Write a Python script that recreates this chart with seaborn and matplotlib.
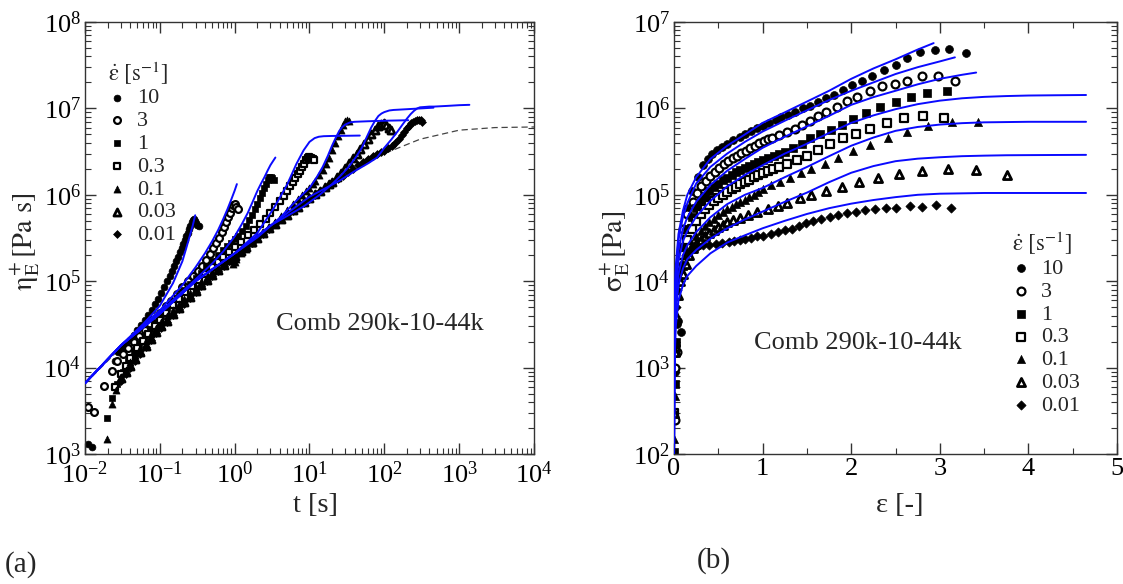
import matplotlib
matplotlib.use("Agg")
import matplotlib.pyplot as plt
import seaborn as sns
from matplotlib.ticker import LogLocator, MultipleLocator, NullFormatter

# ---------------- data : panel (a)  eta_E+ vs t ----------------
rate_labels = ["10", "3", "1", "0.3", "0.1", "0.03", "0.01"]

t_a_10 = [0.011, 0.0125, 0.025, 0.028, 0.031, 0.035, 0.04, 0.045, 0.05, 0.056, 0.063, 0.07, 0.078, 0.086,
          0.095, 0.105, 0.115, 0.125, 0.135, 0.145, 0.155, 0.165, 0.175, 0.185, 0.195, 0.205, 0.215, 0.225,
          0.235, 0.245, 0.255, 0.265, 0.275, 0.285, 0.295, 0.305, 0.315, 0.33]
eta_a_10 = [1.3e3, 1.2e3, 1.2e4, 1.5e4, 1.7e4, 1.9e4, 2.1e4, 2.4e4, 2.7e4, 3.1e4, 3.6e4, 4.1e4, 4.7e4, 5.4e4,
            6.3e4, 7.3e4, 8.5e4, 1.0e5, 1.15e5, 1.3e5, 1.5e5, 1.7e5, 1.9e5, 2.15e5, 2.4e5, 2.7e5, 3.0e5, 3.3e5,
            3.65e5, 4.0e5, 4.4e5, 4.8e5, 5.1e5, 5.2e5, 5.0e5, 4.7e5, 4.5e5, 4.4e5]

t_a_3 = [0.0108, 0.013, 0.0178, 0.0226, 0.027, 0.032, 0.038, 0.045, 0.053, 0.063, 0.075, 0.089, 0.1, 0.12,
         0.14, 0.17, 0.2, 0.24, 0.28, 0.32, 0.37, 0.42, 0.47, 0.52, 0.57, 0.62, 0.67, 0.72, 0.77, 0.82, 0.87,
         0.92, 0.96, 1.0, 1.05, 1.1]
eta_a_3 = [3.5e3, 3.1e3, 6.2e3, 9.1e3, 1.2e4, 1.45e4, 1.7e4, 2.0e4, 2.3e4, 2.7e4, 3.2e4, 3.8e4, 4.3e4, 5.1e4,
           5.9e4, 7.2e4, 8.5e4, 1.0e5, 1.15e5, 1.3e5, 1.5e5, 1.75e5, 2.05e5, 2.4e5, 2.8e5, 3.2e5, 3.7e5, 4.2e5,
           4.8e5, 5.5e5, 6.2e5, 7.0e5, 7.6e5, 7.8e5, 7.3e5, 6.8e5]

t_a_1 = [0.0195, 0.0226, 0.027, 0.032, 0.038, 0.045, 0.053, 0.063, 0.075, 0.089, 0.105, 0.125, 0.15, 0.18,
         0.21, 0.25, 0.3, 0.35, 0.42, 0.5, 0.6, 0.7, 0.8, 0.9, 1.0, 1.1, 1.25, 1.4, 1.55, 1.7, 1.85, 2.0, 2.15,
         2.3, 2.45, 2.6, 2.75, 2.9, 3.05, 3.2, 3.35]
eta_a_1 = [2.6e3, 4.5e3, 6.5e3, 9e3, 1.2e4, 1.5e4, 1.9e4, 2.3e4, 2.8e4, 3.4e4, 4.1e4, 4.9e4, 5.9e4, 7e4,
           8e4, 9.3e4, 1.08e5, 1.25e5, 1.45e5, 1.7e5, 2e5, 2.3e5, 2.55e5, 2.8e5, 3.05e5, 3.35e5, 3.8e5, 4.4e5,
           5.1e5, 5.9e5, 6.8e5, 7.9e5, 9.1e5, 1.05e6, 1.2e6, 1.35e6, 1.5e6, 1.6e6, 1.6e6, 1.55e6, 1.5e6]

t_a_03 = [0.025, 0.03, 0.035, 0.04, 0.05, 0.06, 0.07, 0.085, 0.1, 0.12, 0.15, 0.18, 0.22, 0.27, 0.33, 0.4,
          0.5, 0.6, 0.7, 0.85, 1.0, 1.2, 1.5, 1.8, 2.2, 2.6, 3.0, 3.5, 4.0, 4.5, 5.0, 5.5, 6.0, 6.5, 7.0, 7.5,
          8.0, 8.5, 9.0, 9.5, 10.0, 10.5, 11.0, 11.5]
eta_a_03 = [6e3, 8.5e3, 1.05e4, 1.3e4, 1.7e4, 2.05e4, 2.45e4, 3e4, 3.6e4, 4.3e4, 5.3e4, 6.2e4, 7.5e4, 8.8e4,
            1.03e5, 1.2e5, 1.45e5, 1.68e5, 1.9e5, 2.2e5, 2.5e5, 2.85e5, 3.4e5, 3.9e5, 4.6e5, 5.3e5, 6.1e5,
            7.2e5, 8.4e5, 9.6e5, 1.1e6, 1.25e6, 1.4e6, 1.55e6, 1.72e6, 1.9e6, 2.1e6, 2.3e6, 2.5e6, 2.65e6,
            2.75e6, 2.7e6, 2.6e6, 2.5e6]

t_a_01 = [0.0194, 0.0226, 0.026, 0.03, 0.035, 0.04, 0.047, 0.055, 0.065, 0.077, 0.09, 0.105, 0.125, 0.15,
          0.18, 0.21, 0.25, 0.3, 0.36, 0.43, 0.5, 0.6, 0.72, 0.85, 0.95, 1.0, 1.05, 1.2, 1.4, 1.7, 2.0, 2.4,
          2.9, 3.5, 4.2, 5.0, 6.0, 7.0, 8.0, 9.0, 10, 11, 12, 13.5, 15, 16.5, 18, 20, 22, 24, 26, 28, 30, 32, 34]
eta_a_01 = [1.5e3, 3.8e3, 5.5e3, 7.5e3, 9.5e3, 1.15e4, 1.4e4, 1.7e4, 2.05e4, 2.45e4, 2.9e4, 3.4e4, 4e4, 4.7e4,
            5.5e4, 6.3e4, 7.3e4, 8.5e4, 9.8e4, 1.13e5, 1.27e5, 1.45e5, 1.65e5, 1.8e5, 1.6e5, 1.65e5, 1.8e5,
            2.1e5, 2.35e5, 2.75e5, 3.15e5, 3.6e5, 4.2e5, 4.9e5, 5.7e5, 6.6e5, 7.8e5, 8.9e5, 1.0e6, 1.1e6,
            1.2e6, 1.32e6, 1.45e6, 1.68e6, 1.95e6, 2.3e6, 2.7e6, 3.3e6, 4.0e6, 4.8e6, 5.6e6, 6.4e6, 7.1e6,
            7.4e6, 7.2e6]

t_a_003 = [0.03, 0.035, 0.04, 0.047, 0.055, 0.065, 0.077, 0.09, 0.105, 0.125, 0.15, 0.18, 0.21, 0.25, 0.3,
           0.36, 0.43, 0.5, 0.6, 0.72, 0.85, 1.0, 1.2, 1.4, 1.7, 2.0, 2.4, 2.9, 3.5, 4.2, 5, 6, 7, 8.5, 10, 12,
           14, 16, 18, 20, 23, 26, 30, 34, 38, 43, 48, 54, 60, 67, 74, 82, 90, 98, 106, 114, 122]
eta_a_003 = [7.5e3, 9e3, 1.05e4, 1.25e4, 1.5e4, 1.8e4, 2.15e4, 2.55e4, 3e4, 3.5e4, 4.2e4, 4.9e4, 5.7e4,
             6.6e4, 7.7e4, 9e4, 1.04e5, 1.18e5, 1.35e5, 1.55e5, 1.75e5, 1.97e5, 2.25e5, 2.5e5, 2.85e5, 3.2e5,
             3.6e5, 4.1e5, 4.65e5, 5.2e5, 5.9e5, 6.6e5, 7.3e5, 8.2e5, 9.2e5, 1.02e6, 1.12e6, 1.22e6, 1.32e6,
             1.42e6, 1.6e6, 1.78e6, 2.05e6, 2.35e6, 2.65e6, 3.0e6, 3.4e6, 3.9e6, 4.4e6, 5.0e6, 5.6e6, 6.2e6,
             6.6e6, 6.7e6, 6.4e6, 6.0e6, 5.6e6]

t_a_001 = [0.03, 0.035, 0.04, 0.047, 0.055, 0.065, 0.077, 0.09, 0.105, 0.125, 0.15, 0.18, 0.21, 0.25, 0.3,
           0.36, 0.43, 0.5, 0.6, 0.72, 0.85, 1.0, 1.2, 1.4, 1.7, 2.0, 2.4, 2.9, 3.5, 4.2, 5, 6, 7, 8.5, 10, 12,
           14, 17, 20, 24, 28, 33, 38, 45, 52, 60, 70, 80, 90, 100, 112, 125, 140, 155, 170, 185, 200, 215,
           230, 245, 260, 275, 290, 305, 320]
eta_a_001 = [7e3, 8.5e3, 1e4, 1.2e4, 1.45e4, 1.75e4, 2.1e4, 2.5e4, 2.9e4, 3.4e4, 4.1e4, 4.8e4, 5.5e4, 6.4e4,
             7.5e4, 8.7e4, 1e5, 1.14e5, 1.3e5, 1.5e5, 1.7e5, 1.92e5, 2.2e5, 2.45e5, 2.8e5, 3.15e5, 3.55e5,
             4.05e5, 4.6e5, 5.2e5, 5.8e5, 6.5e5, 7.2e5, 8.1e5, 9.0e5, 1.0e6, 1.1e6, 1.23e6, 1.36e6, 1.52e6,
             1.67e6, 1.85e6, 2.0e6, 2.2e6, 2.4e6, 2.6e6, 2.8e6, 2.95e6, 3.1e6, 3.25e6, 3.45e6, 3.7e6, 4.0e6,
             4.4e6, 4.9e6, 5.4e6, 5.9e6, 6.3e6, 6.7e6, 7.0e6, 7.2e6, 7.35e6, 7.4e6, 7.3e6, 7.0e6]

# model curves, panel (a)
tm_a_10 = [0.01, 0.03, 0.06, 0.1, 0.15, 0.2, 0.225, 0.25, 0.275, 0.297]
em_a_10 = [6.6e3, 1.8e4, 3.2e4, 5.2e4, 9.5e4, 1.7e5, 2.4e5, 3.3e5, 4.4e5, 5.8e5]
tm_a_3 = [0.01, 0.03, 0.1, 0.2, 0.3, 0.4, 0.5, 0.6, 0.7, 0.8, 0.9, 1.0, 1.07]
em_a_3 = [6.6e3, 1.8e4, 4.6e4, 9e4, 1.45e5, 2.1e5, 2.9e5, 3.9e5, 5.2e5, 6.8e5, 8.8e5, 1.12e6, 1.33e6]
tm_a_1 = [0.01, 0.03, 0.1, 0.3, 0.5, 0.7, 1.0, 1.25, 1.5, 1.75, 2.0, 2.25, 2.5, 2.75, 3.0, 3.25, 3.5]
em_a_1 = [6.6e3, 1.8e4, 4.4e4, 1.05e5, 1.6e5, 2.2e5, 3.3e5, 4.6e5, 6.2e5, 8.4e5, 1.1e6, 1.35e6, 1.6e6,
          1.9e6, 2.2e6, 2.45e6, 2.7e6]
tm_a_03 = [0.01, 0.03, 0.1, 0.3, 1, 2, 3.33, 5, 6.67, 8.33, 10, 11.7, 13.3, 15.5, 20, 30, 47]
em_a_03 = [6.6e3, 1.8e4, 4.2e4, 1e5, 2.1e5, 3.6e5, 7e5, 1.3e6, 2.27e6, 3.27e6, 4.1e6, 4.53e6, 4.7e6, 4.77e6,
           4.8e6, 4.82e6, 4.85e6]
tm_a_01 = [0.01, 0.03, 0.1, 0.3, 1, 2, 4.1, 6, 8, 10, 12.5, 15, 17.5, 20, 22.5, 25, 27.5, 30, 35, 40, 60, 100, 209]
em_a_01 = [6.6e3, 1.8e4, 4.2e4, 1e5, 2.1e5, 3.2e5, 5.5e5, 7.8e5, 1e6, 1.2e6, 1.6e6, 2.1e6, 2.8e6, 3.7e6,
           4.6e6, 5.5e6, 6.1e6, 6.5e6, 6.9e6, 7.0e6, 7.1e6, 7.2e6, 7.3e6]
tm_a_003 = [0.01, 0.03, 0.1, 0.3, 1, 3, 8.3, 13.7, 20, 26.7, 33.3, 41.7, 50, 58.3, 66.7, 75, 83.3, 91.7, 100,
            116.7, 133, 155, 250, 454]
em_a_003 = [6.6e3, 1.8e4, 4.2e4, 1e5, 2.1e5, 4.4e5, 7.3e5, 1e6, 1.33e6, 1.7e6, 2.1e6, 2.73e6, 3.5e6, 4.67e6,
            6e6, 7.17e6, 8.17e6, 8.73e6, 9.07e6, 9.47e6, 9.6e6, 9.67e6, 9.9e6, 1.02e7]
tm_a_001 = [0.01, 0.03, 0.1, 0.3, 1, 3, 10, 25, 41, 60, 80, 100, 125, 150, 175, 200, 225, 250, 275, 300, 350,
            400, 465, 700, 1000, 1370]
em_a_001 = [6.6e3, 1.8e4, 4.2e4, 1e5, 2.1e5, 4.4e5, 9.5e5, 1.45e6, 1.9e6, 2.3e6, 2.7e6, 3.5e6, 4.4e6, 5.4e6,
            6.5e6, 7.6e6, 8.6e6, 9.4e6, 1.0e7, 1.03e7, 1.04e7, 1.05e7, 1.05e7, 1.07e7, 1.09e7, 1.1e7]

# linear viscoelastic envelope (dashed)
t_lve = [0.01, 0.03, 0.1, 0.3, 1, 3, 10, 30, 100, 300, 1000, 3000, 10000]
eta_lve = [6.5e3, 1.7e4, 4.1e4, 9.5e4, 2.0e5, 4.3e5, 9.0e5, 1.7e6, 3.0e6, 4.4e6, 5.6e6, 6.0e6, 6.1e6]

# ---------------- data : panel (b)  sigma_E+ vs strain ----------------
e_b_10 = [0.005, 0.01, 0.02, 0.03, 0.05, 0.08, 0.15, 0.2, 0.27, 0.33, 0.38, 0.43, 0.48, 0.54, 0.6, 0.67, 0.74,
          0.8, 0.87, 0.94, 1.0, 1.07, 1.15, 1.21, 1.29, 1.37, 1.45, 1.54, 1.63, 1.71, 1.80, 1.91, 2.01, 2.12,
          2.24, 2.37, 2.50, 2.63, 2.78, 2.94, 3.10, 3.29]
s_b_10 = [2.5e2, 9e2, 1.8e3, 3.2e3, 3.5e3, 2.6e3, 7e4, 1.1e5, 1.6e5, 2.2e5, 2.6e5, 3.0e5, 3.3e5, 3.6e5, 3.9e5,
          4.3e5, 4.7e5, 5.1e5, 5.5e5, 5.9e5, 6.3e5, 6.8e5, 7.3e5, 7.9e5, 8.5e5, 9.1e5, 1.0e6, 1.07e6, 1.18e6,
          1.31e6, 1.44e6, 1.65e6, 1.87e6, 2.1e6, 2.4e6, 2.8e6, 3.2e6, 3.8e6, 4.5e6, 4.7e6, 4.9e6, 4.4e6]

e_b_3 = [0.01, 0.016, 0.03, 0.1, 0.15, 0.21, 0.26, 0.31, 0.36, 0.41, 0.46, 0.51, 0.56, 0.61, 0.66, 0.71, 0.76,
         0.81, 0.86, 0.91, 0.96, 1.01, 1.06, 1.11, 1.19, 1.27, 1.36, 1.44, 1.53, 1.63, 1.72, 1.84, 1.95, 2.07,
         2.21, 2.35, 2.49, 2.63, 2.80, 2.98, 3.17]
s_b_3 = [1e3, 2.5e2, 1.5e3, 4e4, 6e4, 8.3e4, 1.05e5, 1.25e5, 1.45e5, 1.65e5, 1.85e5, 2.05e5, 2.25e5, 2.45e5,
         2.65e5, 2.85e5, 3.05e5, 3.25e5, 3.45e5, 3.7e5, 3.95e5, 4.2e5, 4.4e5, 4.6e5, 4.9e5, 5.3e5, 5.8e5, 6.4e5,
         7.2e5, 8.2e5, 9.1e5, 1.05e6, 1.22e6, 1.37e6, 1.58e6, 1.8e6, 1.9e6, 2.05e6, 2.4e6, 2.4e6, 2.1e6]

e_b_1 = [0.005, 0.01, 0.02, 0.1, 0.15, 0.2, 0.25, 0.3, 0.35, 0.4, 0.45, 0.5, 0.55, 0.6, 0.65, 0.7, 0.75, 0.8,
         0.85, 0.9, 0.95, 1.0, 1.06, 1.13, 1.19, 1.25, 1.34, 1.44, 1.54, 1.65, 1.77, 1.90, 2.02, 2.17, 2.33,
         2.50, 2.68, 2.85, 3.08]
s_b_1 = [1.05e2, 6.5e2, 2e3, 2.5e4, 4e4, 5.5e4, 7e4, 8.5e4, 9.8e4, 1.1e5, 1.22e5, 1.35e5, 1.47e5, 1.58e5,
         1.7e5, 1.82e5, 1.94e5, 2.06e5, 2.18e5, 2.3e5, 2.42e5, 2.55e5, 2.7e5, 2.85e5, 3.0e5, 3.15e5, 3.5e5,
         3.9e5, 4.5e5, 5.0e5, 5.6e5, 6.5e5, 7.6e5, 8.9e5, 1.05e6, 1.2e6, 1.37e6, 1.5e6, 1.6e6]

e_b_03 = [0.005, 0.01, 0.1, 0.15, 0.2, 0.25, 0.3, 0.35, 0.4, 0.45, 0.5, 0.55, 0.6, 0.65, 0.7, 0.75, 0.8, 0.85,
          0.9, 0.95, 1.0, 1.06, 1.12, 1.19, 1.28, 1.39, 1.50, 1.62, 1.76, 1.91, 2.05, 2.21, 2.40, 2.60, 2.81,
          3.05]
s_b_03 = [3e2, 1.5e3, 2e4, 3e4, 4e4, 5e4, 6e4, 6.8e4, 7.6e4, 8.5e4, 9.3e4, 1.0e5, 1.08e5, 1.16e5, 1.24e5,
          1.32e5, 1.4e5, 1.5e5, 1.6e5, 1.7e5, 1.8e5, 1.9e5, 2.0e5, 2.1e5, 2.3e5, 2.5e5, 2.8e5, 3.3e5, 3.85e5,
          4.5e5, 5.0e5, 5.8e5, 6.7e5, 7.7e5, 8.1e5, 7.7e5]

e_b_01 = [0.003, 0.008, 0.02, 0.1, 0.15, 0.2, 0.25, 0.3, 0.35, 0.4, 0.45, 0.5, 0.55, 0.6, 0.65, 0.7, 0.75,
          0.8, 0.85, 0.9, 0.95, 1.0, 1.09, 1.20, 1.31, 1.43, 1.55, 1.70, 1.85, 2.02, 2.21, 2.41, 2.63, 2.87,
          3.14, 3.43]
s_b_01 = [1.5e2, 4.7e2, 1.5e3, 1.5e4, 2.1e4, 2.7e4, 3.3e4, 3.8e4, 4.3e4, 4.8e4, 5.3e4, 5.8e4, 6.3e4, 6.8e4,
          7.3e4, 7.8e4, 8.3e4, 8.8e4, 9.4e4, 1.0e5, 1.08e5, 1.17e5, 1.3e5, 1.4e5, 1.58e5, 1.8e5, 2.0e5, 2.3e5,
          2.65e5, 3.2e5, 3.8e5, 4.5e5, 5.4e5, 6.3e5, 7.0e5, 7.0e5]

e_b_003 = [0.005, 0.01, 0.02, 0.04, 0.07, 0.1, 0.13, 0.17, 0.21, 0.25, 0.3, 0.35, 0.4, 0.45, 0.5, 0.55, 0.6,
           0.66, 0.74, 0.84, 0.94, 1.06, 1.17, 1.28, 1.42, 1.55, 1.72, 1.90, 2.09, 2.30, 2.54, 2.80, 3.09,
           3.41, 3.76]
s_b_003 = [3e2, 1.5e3, 4e3, 7e3, 1e4, 1.2e4, 1.6e4, 2.0e4, 2.4e4, 2.7e4, 3.0e4, 3.3e4, 3.6e4, 3.9e4, 4.2e4,
           4.5e4, 4.8e4, 5.1e4, 5.4e4, 5.9e4, 6.3e4, 6.9e4, 7.4e4, 8.1e4, 9.1e4, 1.0e5, 1.11e5, 1.24e5, 1.4e5,
           1.58e5, 1.76e5, 1.87e5, 1.97e5, 1.94e5, 1.7e5]

e_b_001 = [0.01, 0.02, 0.03, 0.05, 0.07, 0.09, 0.13, 0.17, 0.21, 0.26, 0.33, 0.4, 0.47, 0.54, 0.62, 0.68, 0.74,
           0.8, 0.87, 0.94, 1.0, 1.09, 1.17, 1.25, 1.33, 1.41, 1.49, 1.57, 1.66, 1.76, 1.85, 1.95, 2.05, 2.15,
           2.27, 2.39, 2.51, 2.66, 2.80, 2.96, 3.13]
s_b_001 = [2e3, 5e3, 8e3, 1.1e4, 1.35e4, 1.6e4, 2.0e4, 2.2e4, 2.4e4, 2.5e4, 2.6e4, 2.65e4, 2.7e4, 2.75e4,
           2.85e4, 2.95e4, 3.0e4, 3.1e4, 3.2e4, 3.3e4, 3.35e4, 3.5e4, 3.7e4, 3.9e4, 4.0e4, 4.4e4, 4.7e4, 5.0e4,
           5.3e4, 5.6e4, 5.8e4, 6.1e4, 6.3e4, 6.6e4, 6.8e4, 7.0e4, 7.1e4, 7.4e4, 7.3e4, 7.6e4, 7.0e4]

# model curves, panel (b)
em_b_10 = [0, 0.003, 0.01, 0.02, 0.05, 0.1, 0.15, 0.25, 0.41, 0.6, 0.8, 1.0, 1.25, 1.5, 1.75, 2.0, 2.25, 2.5,
           2.75, 2.93]
sm_b_10 = [1e2, 2e3, 8e3, 1.5e4, 3.5e4, 6.5e4, 1e5, 1.6e5, 2.6e5, 3.7e5, 5e5, 6.8e5, 9e5, 1.2e6, 1.6e6, 2.2e6,
           2.9e6, 3.7e6, 4.8e6, 5.7e6]
em_b_3 = [0, 0.003, 0.01, 0.02, 0.05, 0.1, 0.15, 0.25, 0.41, 0.6, 0.8, 1.0, 1.25, 1.5, 1.75, 2.0, 2.25, 2.5,
          2.75, 3.0, 3.17]
sm_b_3 = [1e2, 1.8e3, 6.5e3, 1.3e4, 3e4, 5.5e4, 8e4, 1.35e5, 2.1e5, 3.0e5, 4.1e5, 5.4e5, 7.2e5, 9.5e5, 1.25e6,
          1.6e6, 2.0e6, 2.5e6, 3.0e6, 3.5e6, 3.9e6]
em_b_1 = [0, 0.003, 0.01, 0.02, 0.05, 0.1, 0.15, 0.25, 0.41, 0.6, 0.8, 1.0, 1.25, 1.5, 1.75, 2.0, 2.25, 2.5,
          2.75, 3.0, 3.25, 3.41]
sm_b_1 = [1e2, 1.5e3, 5e3, 1e4, 2.3e4, 4e4, 5.5e4, 8.3e4, 1.3e5, 1.9e5, 2.6e5, 3.5e5, 4.7e5, 6.2e5, 8.2e5,
          1.1e6, 1.35e6, 1.6e6, 1.9e6, 2.2e6, 2.45e6, 2.6e6]
em_b_long = [0, 0.003, 0.01, 0.02, 0.05, 0.1, 0.15, 0.25, 0.41, 0.6, 0.8, 1.0, 1.25, 1.5, 1.75, 2.0, 2.25, 2.5,
             2.75, 3.0, 3.25, 3.5, 3.75, 4.0, 4.3, 4.65]
sm_b_03 = [1e2, 1.2e3, 4e3, 8e3, 1.7e4, 2.9e4, 3.8e4, 5.6e4, 8.5e4, 1.25e5, 1.7e5, 2.2e5, 3.0e5, 3.9e5, 5.2e5,
           6.8e5, 8.3e5, 9.8e5, 1.12e6, 1.23e6, 1.31e6, 1.36e6, 1.39e6, 1.41e6, 1.42e6, 1.43e6]
sm_b_01 = [1e2, 9e2, 3e3, 6e3, 1.2e4, 2e4, 2.6e4, 3.7e4, 5.5e4, 7.8e4, 1e5, 1.2e5, 1.6e5, 2.1e5, 2.8e5, 3.7e5,
           4.6e5, 5.5e5, 6.1e5, 6.5e5, 6.75e5, 6.9e5, 6.95e5, 7.0e5, 7.0e5, 7.0e5]
sm_b_003 = [1e2, 7e2, 2.2e3, 4.5e3, 9e3, 1.4e4, 1.8e4, 2.3e4, 3.1e4, 4.1e4, 5.2e4, 6.4e4, 8.3e4, 1.06e5, 1.4e5,
            1.8e5, 2.15e5, 2.45e5, 2.62e5, 2.72e5, 2.8e5, 2.84e5, 2.87e5, 2.88e5, 2.89e5, 2.9e5]
sm_b_001 = [1e2, 5e2, 1.5e3, 3e3, 6e3, 9e3, 1.15e4, 1.5e4, 2.1e4, 2.8e4, 3.4e4, 4.1e4, 5.0e4, 6.0e4, 7.0e4,
            7.9e4, 8.7e4, 9.4e4, 1.0e5, 1.03e5, 1.04e5, 1.05e5, 1.05e5, 1.05e5, 1.05e5, 1.05e5]

# ---------------- style ----------------
sns.set_style("ticks")
plt.rcParams["font.family"] = ["Liberation Serif", "DejaVu Serif"]
plt.rcParams["mathtext.fontset"] = "stix"

BLUE = "#0a0aff"
# marker, facecolor, edgewidth
styles = {
    "10": ("o", "black", 0.5),
    "3": ("o", "white", 1.6),
    "1": ("s", "black", 0.5),
    "0.3": ("s", "white", 1.6),
    "0.1": ("^", "black", 0.5),
    "0.03": ("^", "white", 2.0),
    "0.01": ("D", "black", 0.5),
}
sizes_a = {"o": 24, "s": 21, "^": 26, "D": 16}
sizes_b = {"o": 32, "s": 28, "^": 34, "D": 22}

data_a = [(t_a_10, eta_a_10), (t_a_3, eta_a_3), (t_a_1, eta_a_1), (t_a_03, eta_a_03),
          (t_a_01, eta_a_01), (t_a_003, eta_a_003), (t_a_001, eta_a_001)]
model_a = [(tm_a_10, em_a_10), (tm_a_3, em_a_3), (tm_a_1, em_a_1), (tm_a_03, em_a_03),
           (tm_a_01, em_a_01), (tm_a_003, em_a_003), (tm_a_001, em_a_001)]
data_b = [(e_b_10, s_b_10), (e_b_3, s_b_3), (e_b_1, s_b_1), (e_b_03, s_b_03),
          (e_b_01, s_b_01), (e_b_003, s_b_003), (e_b_001, s_b_001)]
model_b = [(em_b_10, sm_b_10), (em_b_3, sm_b_3), (em_b_1, sm_b_1), (em_b_long, sm_b_03),
           (em_b_long, sm_b_01), (em_b_long, sm_b_003), (em_b_long, sm_b_001)]

fig = plt.figure(figsize=(11.23, 5.84), dpi=100)
ax1 = fig.add_axes([0.0757, 0.2226, 0.3998, 0.7397])
ax2 = fig.add_axes([0.6002, 0.2226, 0.3945, 0.7397])

def draw(ax, data, model, sizes, lve=None):
    handles = []
    if lve is not None:
        sns.lineplot(x=lve[0], y=lve[1], ax=ax, color="#444444", lw=0.9, linestyle=(0, (5, 3)),
                     estimator=None, sort=False, legend=False, zorder=1)
    for lab, (x, y) in zip(rate_labels, data):
        m, fc, ew = styles[lab]
        sns.scatterplot(x=x, y=y, ax=ax, marker=m, s=sizes[m], color="black", facecolor=fc,
                        edgecolor="black", linewidth=ew, legend=False, zorder=2)
        handles.append(ax.collections[-1])
    for x, y in model:
        sns.lineplot(x=x, y=y, ax=ax, color=BLUE, lw=1.4, estimator=None, sort=False,
                     legend=False, zorder=3)
    return handles

h1 = draw(ax1, data_a, model_a, sizes_a, (t_lve, eta_lve))
h2 = draw(ax2, data_b, model_b, sizes_b)

for ax in (ax1, ax2):
    ax.set_yscale("log")
    for sp in ax.spines.values():
        sp.set_color("#333333")
        sp.set_linewidth(1.0)
    ax.tick_params(which="both", direction="in", top=True, right=True, colors="#333333",
                   labelcolor="black", labelsize=19)
    ax.tick_params(which="major", length=8, width=1.0, pad=3)
    ax.tick_params(which="minor", length=4, width=0.8)
    ax.yaxis.set_major_locator(LogLocator(base=10, numticks=12))
    ax.yaxis.set_minor_locator(LogLocator(base=10, subs=range(2, 10), numticks=12))
    ax.yaxis.set_minor_formatter(NullFormatter())
ax1.tick_params(axis="x", which="major", pad=5)

ax1.set_xscale("log")
ax1.set_xlim(1e-2, 1e4)
ax1.set_ylim(1e3, 1e8)
ax1.xaxis.set_major_locator(LogLocator(base=10, numticks=12))
ax1.xaxis.set_minor_locator(LogLocator(base=10, subs=range(2, 10), numticks=12))
ax1.xaxis.set_minor_formatter(NullFormatter())

ax2.set_xlim(0, 5)
ax2.set_ylim(1e2, 1e7)
ax2.xaxis.set_major_locator(MultipleLocator(1))
ax2.xaxis.set_minor_locator(MultipleLocator(0.5))

ax1.set_xlabel("t [s]", fontsize=20.5)
ax1.set_ylabel(r"$\mathrm{η}_{\mathrm{E}}^{+}\,[\mathrm{Pa\ s}]$", fontsize=20.5)
ax2.set_xlabel("ε [-]", fontsize=20.5)
ax2.set_ylabel(r"$\mathrm{σ}_{\mathrm{E}}^{+}\,[\mathrm{Pa}]$", fontsize=20.5)
ax1.xaxis.set_label_coords(0.513, -0.09)
ax2.xaxis.set_label_coords(0.51, -0.09)
ax1.yaxis.set_label_coords(-0.095, 0.49)
ax2.yaxis.set_label_coords(-0.095, 0.47)

leg_title = r"$\dot{\mathrm{ε}}\ [\mathrm{s}^{-1}]$"
for ax, h, anchor in ((ax1, h1, (0.052, 0.915)), (ax2, h2, (0.764, 0.52))):
    leg = ax.legend(h, rate_labels, title=leg_title, loc="upper left", bbox_to_anchor=anchor,
                    frameon=False, fontsize=16, title_fontsize=16.5, handlelength=0.8,
                    handletextpad=0.5, labelspacing=0.1, borderaxespad=0, borderpad=0,
                    alignment="left")

ax1.text(0.425, 0.30, "Comb 290k-10-44k", transform=ax1.transAxes, fontsize=19, va="center", ha="left")
ax2.text(0.18, 0.257, "Comb 290k-10-44k", transform=ax2.transAxes, fontsize=19, va="center", ha="left")

fig.text(0.004, 0.033, "(a)", fontsize=21, va="center", ha="left")
fig.text(0.620, 0.041, "(b)", fontsize=21, va="center", ha="left")

fig.savefig("out.png", dpi=100)
